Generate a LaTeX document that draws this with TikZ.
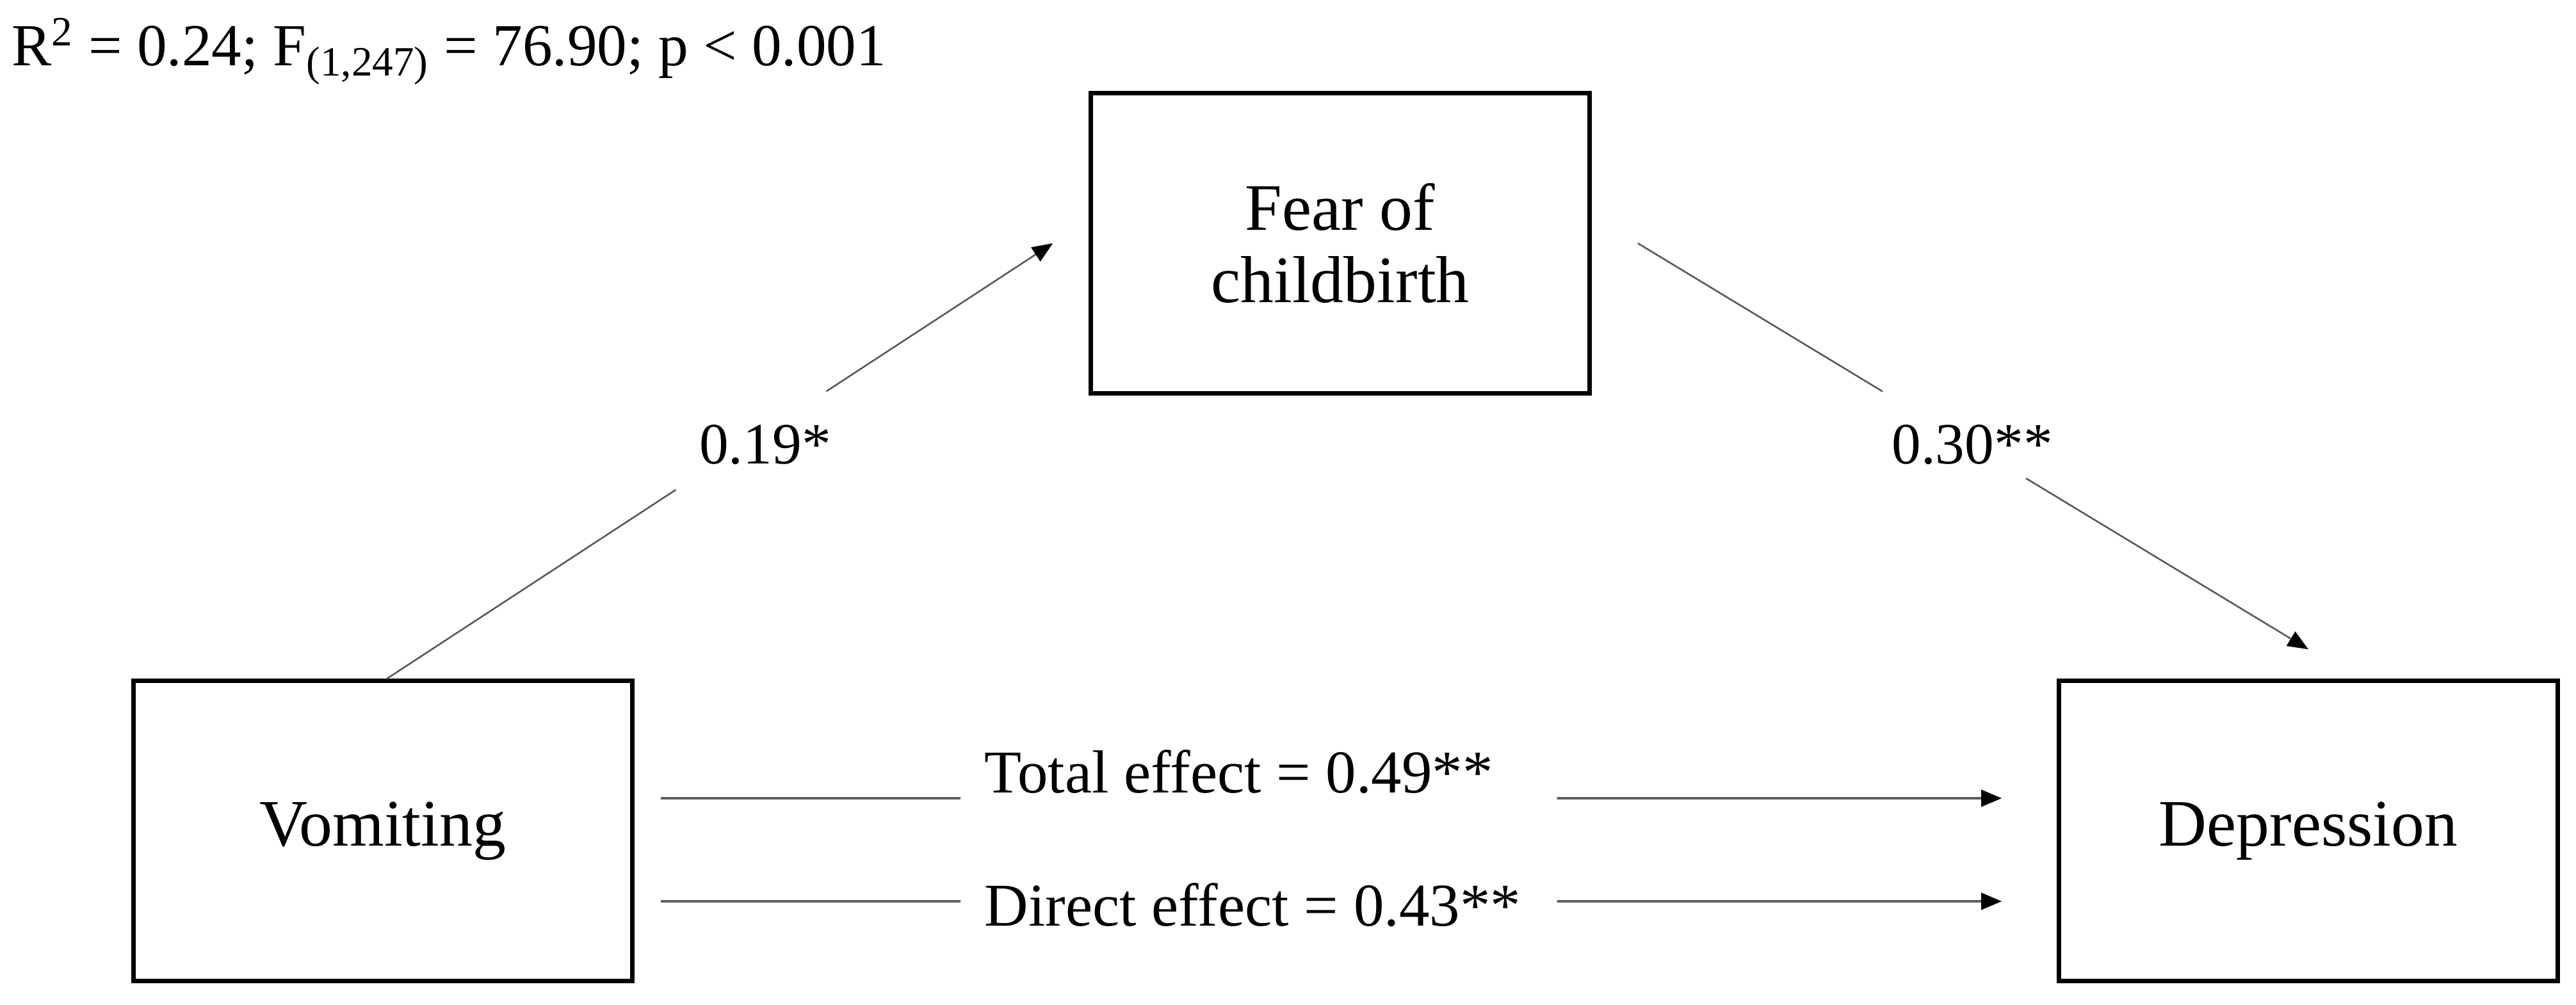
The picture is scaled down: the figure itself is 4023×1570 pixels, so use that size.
\documentclass[tikz,border=0pt]{standalone}
\usepackage{fontspec}
\setmainfont{Liberation Serif}
\usetikzlibrary{arrows.meta,calc}
\tikzset{
  varbox/.style={draw=black, line width=0.07cm, minimum width=7.78cm, minimum height=4.68cm,
    inner sep=0pt, align=center, font=\fontsize{29.5}{32}\selectfont},
  conn/.style={draw=black!65, line width=0.026cm},
  hconn/.style={draw=black!62, line width=0.036cm},
  arrowtip/.style={-{Triangle[length=0.32cm,width=0.26cm,color=black]}},
  lab/.style={font=\fontsize{27}{32}\selectfont, inner sep=0pt},
  coef/.style={font=\fontsize{26}{32}\selectfont, inner sep=0pt},
}
\begin{document}
\begin{tikzpicture}[x={(0.01cm,0)}, y={(0,-0.01cm)}]
\useasboundingbox (0,0) rectangle (4023,1570);

% header
\node[font=\fontsize{26.5}{32}\selectfont, inner sep=0pt, anchor=base west] (hdr) at (18,103)
  {R\textsuperscript{2} = 0.24; F\textsubscript{(1,247)} = 76.90; p < 0.001};

% variables
\node[varbox] (fear) at (2093,380) {Fear of\\childbirth};
\node[varbox] (vom)  at (598,1298) {Vomiting};
\node[varbox] (dep)  at (3605,1298) {Depression};

% connector end points
\coordinate (vomtop) at ([xshift=0.06cm]vom.north);
\coordinate (fearin) at ([xshift=-0.56cm]fear.west);
\coordinate (fearout) at ([xshift=0.72cm]fear.east);
\coordinate (depin) at ([yshift=0.46cm]dep.north);
\coordinate (tot0) at ([xshift=0.41cm]vom.east |- 0,1247);
\coordinate (tot1) at ([xshift=-0.86cm]dep.west |- 0,1247);
\coordinate (dir0) at ([xshift=0.41cm]vom.east |- 0,1408);
\coordinate (dir1) at ([xshift=-0.86cm]dep.west |- 0,1408);

% a path: Vomiting -> Fear of childbirth
\draw[conn] (vomtop) -- ($(vomtop)!0.434!(fearin)$);
\draw[conn, arrowtip] ($(vomtop)!0.66!(fearin)$) -- (fearin);
\node[coef, anchor=base] (a) at (1195,725) {0.19*};

% b path: Fear of childbirth -> Depression
\draw[conn] (fearout) -- ($(fearout)!0.365!(depin)$);
\draw[conn, arrowtip] ($(fearout)!0.579!(depin)$) -- (depin);
\node[coef, anchor=base] (b) at (3080,725) {0.30**};

% total effect
\draw[hconn] (tot0) -- ($(tot0)!0.2236!(tot1)$);
\draw[hconn, arrowtip] ($(tot0)!0.6684!(tot1)$) -- (tot1);
\node[lab, anchor=base west] (c) at (1537,1238) {Total effect = 0.49**};

% direct effect
\draw[hconn] (dir0) -- ($(dir0)!0.2236!(dir1)$);
\draw[hconn, arrowtip] ($(dir0)!0.6684!(dir1)$) -- (dir1);
\node[lab, anchor=base west] (cp) at (1537,1446) {Direct effect = 0.43**};
\end{tikzpicture}
\end{document}
